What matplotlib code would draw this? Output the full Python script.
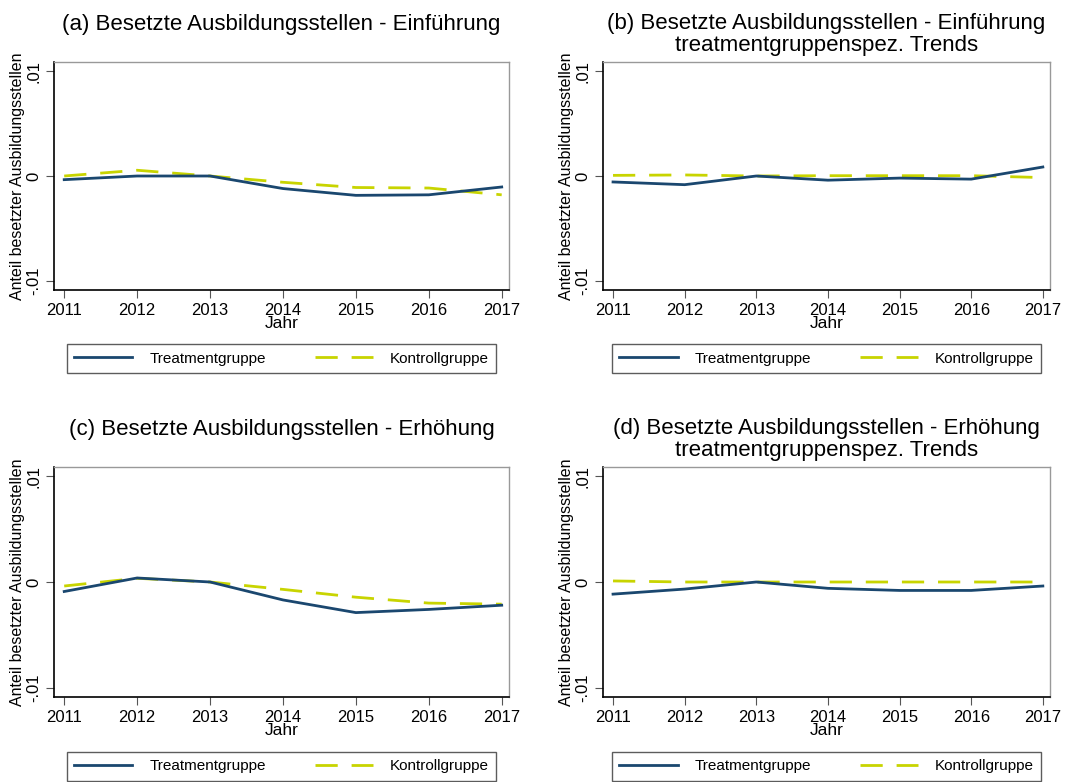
import numpy as np
import matplotlib.pyplot as plt

plt.rcParams["font.family"] = ["Liberation Sans", "DejaVu Sans"]

# ---------------- data ----------------
years = [2011, 2012, 2013, 2014, 2015, 2016, 2017]

a_treat = [-0.00035, 0.0, 0.0, -0.0012, -0.00185, -0.0018, -0.00105]
a_ctrl = [0.0, 0.00055, 0.0, -0.0006, -0.0011, -0.00115, -0.0018]

b_treat = [-0.00057, -0.00083, 0.0, -0.0004, -0.0002, -0.0003, 0.00086]
b_ctrl = [0.00006, 0.0001, 0.0, 0.00003, 0.00003, 0.00003, -0.00015]

c_treat = [-0.0009, 0.00038, 0.0, -0.0017, -0.0029, -0.0026, -0.0022]
c_ctrl = [-0.00038, 0.00035, 0.0, -0.0007, -0.00144, -0.002, -0.0021]

d_treat = [-0.00115, -0.00067, 0.0, -0.0006, -0.0008, -0.0008, -0.00038]
d_ctrl = [0.0001, 0.0, 0.0, 0.0, 0.0, 0.0, 0.0]

titles = [
    "(a) Besetzte Ausbildungsstellen - Einführung",
    "(b) Besetzte Ausbildungsstellen - Einführung\ntreatmentgruppenspez. Trends",
    "(c) Besetzte Ausbildungsstellen - Erhöhung",
    "(d) Besetzte Ausbildungsstellen - Erhöhung\ntreatmentgruppenspez. Trends",
]
series = [(a_treat, a_ctrl), (b_treat, b_ctrl), (c_treat, c_ctrl), (d_treat, d_ctrl)]

yticks = [-0.01, 0.0, 0.01]
ytick_labels = ["-.01", "0", ".01"]

C_TREAT = "#1A476F"
C_CTRL = "#C8D400"

W, H = 1088, 782
fig = plt.figure(figsize=(W / 100, H / 100), dpi=100)
fig.patch.set_facecolor("white")

# axes boxes in pixels: left, top, right, bottom
boxes = [(54, 62, 509, 290), (603, 62, 1050, 290),
         (54, 467, 509, 697), (603, 467, 1050, 697)]

for (l, t, r, b), title, (tr, ct) in zip(boxes, titles, series):
    ax = fig.add_axes([l / W, 1 - b / H, (r - l) / W, (b - t) / H])
    ax.plot(years, tr, color=C_TREAT, lw=2.0, label="Treatmentgruppe", zorder=3)
    ax.plot(years, ct, color=C_CTRL, lw=2.0, dashes=(8, 5), label="Kontrollgruppe", zorder=2)

    ax.set_xlim(2010.86, 2017.1)
    ax.set_ylim(-0.0109, 0.0109)
    ax.set_xticks(years)
    ax.set_xticklabels([str(y) for y in years], fontsize=12)
    ax.set_yticks(yticks)
    ax.set_yticklabels(ytick_labels, fontsize=12, rotation=90, va="center")
    ax.tick_params(axis="both", direction="out", length=6, color="#555555", pad=3)

    for s in ["top", "right"]:
        ax.spines[s].set_color("#999999")
        ax.spines[s].set_linewidth(1.0)
    for s in ["left", "bottom"]:
        ax.spines[s].set_color("black")
        ax.spines[s].set_linewidth(1.2)

    ax.set_xlabel("Jahr", fontsize=12.5, labelpad=-1)
    ax.set_ylabel("Anteil besetzter Ausbildungsstellen", fontsize=11.5, labelpad=1)
    two = "\n" in title
    ax.set_title(title, fontsize=16, pad=8 if two else 23, linespacing=1.08)

    leg = ax.legend(loc="upper center", bbox_to_anchor=(0.5, -0.237), ncol=2,
                    fontsize=11, frameon=True, fancybox=False, edgecolor="#333333",
                    handlelength=3.8, columnspacing=3.2, handletextpad=1.1,
                    borderpad=0.5, borderaxespad=0)
    leg.get_frame().set_linewidth(1.0)

fig.savefig("out.png", dpi=100, facecolor="white")
